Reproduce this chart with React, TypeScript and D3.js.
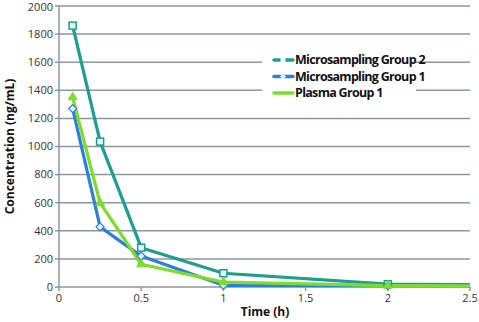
import React from "react";
import * as d3 from "d3";

const times = [0.083, 0.25, 0.5, 1, 2, 4];
const microGroup2 = [1860, 1035, 280, 98, 20, 5];
const microGroup1 = [1270, 428, 220, 12, 10, 5];
const plasmaGroup1 = [1350, 598, 162, 35, 10, 5];
const xTicks = [0, 0.5, 1, 1.5, 2, 2.5];
const yTicks = [0, 200, 400, 600, 800, 1000, 1200, 1400, 1600, 1800, 2000];
const seriesNames = ["Microsampling Group 2", "Microsampling Group 1", "Plasma Group 1"];

const W = 479, H = 322;
const L = 59, R = 470, T = 6, B = 287;
const colors = ["#1d9e90", "#2e7fda", "#7ddc2c"];

export default function App() {
  const x = d3.scaleLinear().domain([0, 2.5]).range([L, R]);
  const y = d3.scaleLinear().domain([0, 2000]).range([B, T]);
  const line = d3.line<number>().x((_, i) => x(times[i])).y((d) => y(d));
  const all = [microGroup2, microGroup1, plasmaGroup1];
  const order = [0, 1, 2];
  const font = "'Open Sans', sans-serif";
  return (
    <svg width={W} height={H} style={{ position: "absolute", left: 0, top: 0 }}>
      <defs>
        <clipPath id="plot">
          <rect x={L} y={0} width={R - L} height={B + 2} />
        </clipPath>
      </defs>
      <rect width={W} height={H} fill="#fff" />
      {yTicks.filter((t) => t > 0).map((t) => (
        <line key={t} x1={L} x2={R} y1={y(t)} y2={y(t)} stroke="#8d979c" strokeWidth={1.5} />
      ))}
      <line x1={L} x2={L} y1={T} y2={B} stroke="#8d979c" strokeWidth={1.5} />
      <line x1={L} x2={R} y1={B} y2={B} stroke="#8d979c" strokeWidth={1.5} />
      {yTicks.map((t) => (
        <g key={t}>
          <line x1={L - 4} x2={L} y1={y(t)} y2={y(t)} stroke="#8d979c" strokeWidth={1.5} />
          <text x={L - 6} y={Math.max(y(t), 7.5)} dy="0.35em" textAnchor="end" fontFamily={font} fontSize={11} fill="#333">{t}</text>
        </g>
      ))}
      {xTicks.map((t) => (
        <g key={t}>
          <line x1={x(t)} x2={x(t)} y1={B} y2={B + 4} stroke="#8d979c" strokeWidth={1.5} />
          <text x={x(t)} y={B + 15} textAnchor="middle" fontFamily={font} fontSize={11} fill="#333">{t}</text>
        </g>
      ))}
      <text x={265} y={316} textAnchor="middle" fontFamily={font} fontSize={12} fontWeight={700} fill="#111">Time (h)</text>
      <text transform={`translate(14,${(T + B) / 2}) rotate(-90)`} textAnchor="middle" fontFamily={font} fontSize={12} fontWeight={700} fill="#111">Concentration (ng/mL)</text>
      <g clipPath="url(#plot)">
        {order.map((k) => (
          <path key={k} d={line(all[k]) || ""} fill="none" stroke={colors[k]} strokeWidth={3.2} strokeLinejoin="round" />
        ))}
      </g>
      {times.filter((t) => t <= 2.5).map((t, i) => (
        <g key={i}>
          <rect x={x(t) - 3.5} y={y(microGroup2[i]) - 3.5} width={7} height={7} fill="#e8fbff" stroke={colors[0]} strokeWidth={1.5} />
          <path d={`M${x(t)},${y(microGroup1[i]) - 4} l4,4 l-4,4 l-4,-4 z`} fill="#e8f4ff" stroke={colors[1]} strokeWidth={1.2} />
          <path d={`M${x(t)},${y(plasmaGroup1[i]) - 5} l4.5,7.5 l-9,0 z`} fill={colors[2]} stroke={colors[2]} strokeWidth={1} />
        </g>
      ))}
      <rect x={262} y={50} width={154} height={50} fill="#fff" />
      {seriesNames.map((n, i) => (
        <g key={n}>
          <line x1={274} x2={293} y1={60 + i * 16.5} y2={60 + i * 16.5} stroke={colors[i]} strokeWidth={3.5} strokeLinecap="round" />
          {i === 0 && <rect x={280.5} y={57.5} width={5} height={5} fill="#e8fbff" />}
          {i === 1 && <path d={`M283,${73.5} l3,3 l-3,3 l-3,-3 z`} fill="#e8f4ff" />}
          <text x={295} y={60 + i * 16.5} dy="0.35em" fontFamily={font} fontSize={12.5} fontWeight={700} letterSpacing={-0.7} fill="#111">{n}</text>
        </g>
      ))}
    </svg>
  );
}
